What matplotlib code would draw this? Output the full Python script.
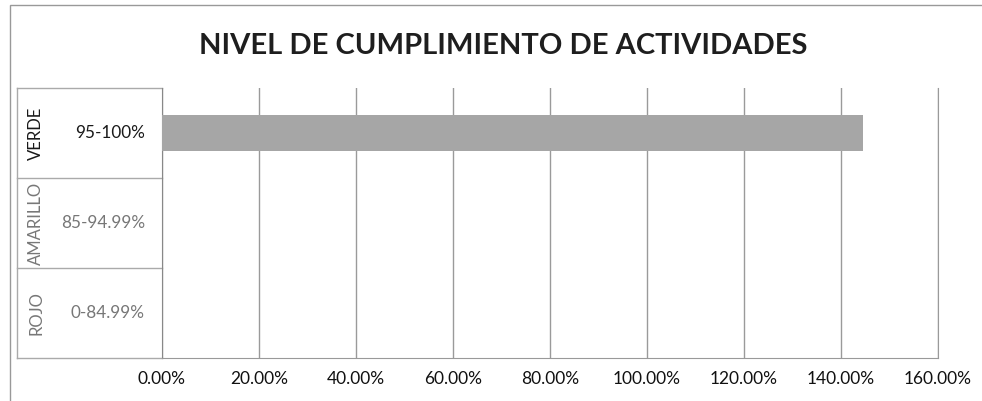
import matplotlib.pyplot as plt
import matplotlib.ticker as mticker
from matplotlib.patches import Rectangle

plt.rcParams['font.family'] = ['Lato', 'DejaVu Sans']

groups = ['VERDE', 'AMARILLO', 'ROJO']
ranges = ['95-100%', '85-94.99%', '0-84.99%']
values = [144.5, 0.0, 0.0]
range_colors = ['#1a1a1a', '#777777', '#777777']
x_ticks = [0, 20, 40, 60, 80, 100, 120, 140, 160]

fig = plt.figure(figsize=(9.82, 4.01), dpi=100)
ax = fig.add_axes([162 / 982, 1 - 358 / 401, (938 - 162) / 982, (358 - 88) / 401])

ypos = list(range(len(groups)))
ax.barh(ypos, values, height=0.39, color='#a6a6a6', zorder=3)
ax.set_ylim(len(groups) - 0.5, -0.5)
ax.set_xlim(0, 160)
ax.set_xticks(x_ticks)
ax.xaxis.set_major_formatter(mticker.FuncFormatter(lambda v, p: f'{v:.2f}%'))
ax.tick_params(axis='x', length=0, labelsize=12.5, pad=9, labelcolor='#111111')
ax.set_yticks([])
ax.grid(axis='x', color='#9a9a9a', linewidth=1, zorder=0)
ax.spines['top'].set_visible(False)
ax.spines['right'].set_color('#9a9a9a')
ax.spines['left'].set_color('#888888')
ax.spines['bottom'].set_color('#999999')

# category label box
trans = ax.get_yaxis_transform()
x0 = -(162 - 17) / 776
for i, (g, r) in enumerate(zip(groups, ranges)):
    ax.text(-0.162, i, g, transform=trans, rotation=90, ha='center', va='center',
            fontsize=12, color=range_colors[i])
    ax.text(-0.022, i, r, transform=trans, ha='right', va='center',
            fontsize=12.3, color=range_colors[i])
for b in [0.5, 1.5, 2.5]:
    ax.plot([x0, 0], [b, b], transform=trans, color='#aaaaaa', lw=1, clip_on=False)
ax.plot([x0, x0], [-0.5, 2.5], transform=trans, color='#aaaaaa', lw=1, clip_on=False)
ax.plot([x0, 0], [-0.5, -0.5], transform=trans, color='#aaaaaa', lw=1, clip_on=False)

fig.text(0.512, 1 - 46 / 401, 'NIVEL DE CUMPLIMIENTO DE ACTIVIDADES', ha='center', va='center',
         fontsize=21, fontweight='bold', color='#1e1e1e')

fig.patches.append(Rectangle((10 / 982, -0.01), 1.1, 1 - 5 / 401 + 0.01, transform=fig.transFigure,
                             fill=False, edgecolor='#999999', lw=1))

fig.savefig('out.png', dpi=100)
